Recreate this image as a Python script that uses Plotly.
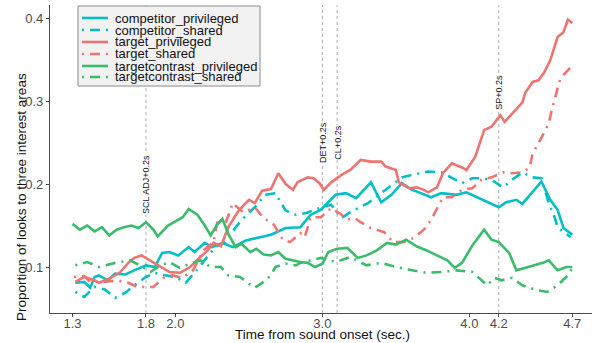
import plotly.graph_objects as go

# ---------------- data ----------------
cp_t = [1.32, 1.38, 1.42, 1.45, 1.48, 1.54, 1.59, 1.66, 1.72, 1.80, 1.86, 1.91, 1.96, 2.02, 2.09, 2.13,
        2.20, 2.25, 2.32, 2.39, 2.48, 2.57, 2.65, 2.75, 2.82, 2.85, 2.92, 2.99, 3.09, 3.16, 3.23, 3.30,
        3.33, 3.40, 3.47, 3.54, 3.61, 3.67, 3.74, 3.81, 3.91, 3.98, 4.05, 4.12, 4.20, 4.25, 4.32, 4.36,
        4.43, 4.49, 4.55, 4.60, 4.64, 4.70]
cp_v = [0.081, 0.082, 0.075, 0.088, 0.090, 0.084, 0.092, 0.091, 0.096, 0.102, 0.100, 0.117, 0.118, 0.114,
        0.124, 0.118, 0.129, 0.124, 0.129, 0.124, 0.132, 0.136, 0.139, 0.147, 0.148, 0.148, 0.163, 0.169,
        0.187, 0.189, 0.183, 0.196, 0.202, 0.178, 0.187, 0.201, 0.193, 0.189, 0.184, 0.189, 0.187, 0.190,
        0.184, 0.178, 0.172, 0.178, 0.181, 0.176, 0.190, 0.203, 0.181, 0.169, 0.147, 0.139]

cs_t = [1.32, 1.38, 1.45, 1.52, 1.59, 1.66, 1.72, 1.80, 1.86, 1.93, 2.00, 2.07, 2.13, 2.20, 2.27, 2.34,
        2.41, 2.48, 2.54, 2.61, 2.68, 2.75, 2.82, 2.89, 2.96, 3.06, 3.13, 3.19, 3.31, 3.40, 3.47, 3.54,
        3.61, 3.72, 3.81, 3.88, 3.95, 4.02, 4.08, 4.15, 4.23, 4.29, 4.36, 4.43, 4.49, 4.54, 4.58, 4.60,
        4.64, 4.69]
cs_v = [0.070, 0.064, 0.076, 0.073, 0.063, 0.069, 0.078, 0.088, 0.093, 0.090, 0.088, 0.081, 0.093, 0.108,
        0.124, 0.130, 0.148, 0.162, 0.172, 0.187, 0.189, 0.168, 0.163, 0.165, 0.170, 0.175, 0.159, 0.166,
        0.177, 0.189, 0.199, 0.208, 0.211, 0.215, 0.214, 0.208, 0.201, 0.207, 0.207, 0.205, 0.196, 0.205,
        0.214, 0.208, 0.207, 0.177, 0.160, 0.148, 0.142, 0.136]

tp_t = [1.32, 1.38, 1.45, 1.48, 1.55, 1.62, 1.68, 1.72, 1.77, 1.83, 1.90, 1.96, 2.03, 2.10, 2.17, 2.22,
        2.26, 2.31, 2.36, 2.43, 2.50, 2.54, 2.59, 2.65, 2.70, 2.75, 2.80, 2.83, 2.90, 2.94, 2.98, 3.01,
        3.06, 3.13, 3.19, 3.26, 3.33, 3.40, 3.43, 3.50, 3.52, 3.59, 3.64, 3.69, 3.72, 3.78, 3.82, 3.88,
        3.95, 3.98, 4.04, 4.10, 4.15, 4.21, 4.24, 4.30, 4.36, 4.38, 4.43, 4.47, 4.51, 4.55, 4.60, 4.64,
        4.67, 4.70]
tp_v = [0.082, 0.088, 0.084, 0.081, 0.086, 0.093, 0.105, 0.111, 0.114, 0.108, 0.100, 0.094, 0.093, 0.100,
        0.112, 0.120, 0.129, 0.125, 0.148, 0.168, 0.181, 0.177, 0.192, 0.194, 0.213, 0.200, 0.193, 0.202,
        0.208, 0.207, 0.201, 0.193, 0.202, 0.211, 0.217, 0.229, 0.227, 0.227, 0.221, 0.217, 0.202, 0.195,
        0.196, 0.193, 0.190, 0.196, 0.213, 0.225, 0.220, 0.217, 0.233, 0.265, 0.269, 0.283, 0.275, 0.286,
        0.298, 0.310, 0.323, 0.325, 0.335, 0.349, 0.377, 0.383, 0.398, 0.394]

ts_t = [1.31, 1.38, 1.42, 1.52, 1.60, 1.68, 1.74, 1.79, 1.85, 1.92, 1.98, 2.05, 2.12, 2.19, 2.26, 2.29,
        2.34, 2.39, 2.46, 2.54, 2.60, 2.67, 2.73, 2.78, 2.85, 2.88, 2.92, 2.99, 3.06, 3.13, 3.17, 3.22,
        3.26, 3.33, 3.42, 3.48, 3.55, 3.62, 3.69, 3.74, 3.79, 3.82, 3.88, 3.95, 4.02, 4.08, 4.15, 4.23,
        4.29, 4.36, 4.41, 4.43, 4.47, 4.51, 4.54, 4.56, 4.60, 4.62, 4.67, 4.70]
ts_v = [0.088, 0.089, 0.082, 0.082, 0.084, 0.081, 0.076, 0.076, 0.076, 0.087, 0.090, 0.087, 0.096, 0.120,
        0.130, 0.159, 0.152, 0.177, 0.166, 0.172, 0.159, 0.151, 0.133, 0.130, 0.141, 0.136, 0.160, 0.160,
        0.171, 0.163, 0.157, 0.159, 0.154, 0.147, 0.142, 0.130, 0.130, 0.135, 0.145, 0.157, 0.175, 0.184,
        0.184, 0.193, 0.195, 0.205, 0.208, 0.214, 0.213, 0.214, 0.220, 0.237, 0.249, 0.263, 0.273, 0.289,
        0.313, 0.328, 0.337, 0.343]

gp_t = [1.30, 1.35, 1.40, 1.45, 1.50, 1.55, 1.60, 1.65, 1.70, 1.75, 1.80, 1.85, 1.88, 1.95, 2.00, 2.05,
        2.09, 2.15, 2.20, 2.24, 2.28, 2.32, 2.36, 2.41, 2.45, 2.51, 2.55, 2.60, 2.65, 2.70, 2.75, 2.80,
        2.85, 2.90, 2.95, 3.00, 3.04, 3.10, 3.17, 3.24, 3.30, 3.37, 3.44, 3.50, 3.57, 3.64, 3.71, 3.78,
        3.85, 3.90, 3.95, 4.02, 4.10, 4.15, 4.20, 4.27, 4.32, 4.40, 4.50, 4.54, 4.60, 4.66, 4.70]
gp_v = [0.152, 0.145, 0.150, 0.143, 0.148, 0.138, 0.145, 0.148, 0.150, 0.147, 0.154, 0.145, 0.137, 0.150,
        0.155, 0.160, 0.170, 0.163, 0.150, 0.138, 0.150, 0.158, 0.140, 0.124, 0.128, 0.118, 0.122, 0.115,
        0.114, 0.118, 0.110, 0.108, 0.106, 0.105, 0.100, 0.104, 0.118, 0.122, 0.123, 0.111, 0.114, 0.120,
        0.129, 0.127, 0.133, 0.125, 0.120, 0.114, 0.108, 0.099, 0.105, 0.126, 0.145, 0.133, 0.130, 0.117,
        0.096, 0.100, 0.105, 0.108, 0.096, 0.100, 0.100]

gs_t = [1.32, 1.40, 1.48, 1.59, 1.69, 1.76, 1.83, 1.90, 1.96, 2.03, 2.10, 2.17, 2.24, 2.31, 2.36, 2.44,
        2.50, 2.54, 2.60, 2.65, 2.68, 2.75, 2.82, 2.85, 2.99, 3.09, 3.19, 3.30, 3.40, 3.50, 3.61, 3.71,
        3.81, 3.91, 4.02, 4.12, 4.17, 4.22, 4.29, 4.36, 4.46, 4.53, 4.60, 4.67, 4.70]
gs_v = [0.102, 0.106, 0.100, 0.105, 0.108, 0.102, 0.094, 0.102, 0.106, 0.099, 0.104, 0.108, 0.100, 0.100,
        0.090, 0.088, 0.080, 0.075, 0.082, 0.090, 0.100, 0.104, 0.102, 0.105, 0.111, 0.106, 0.112, 0.102,
        0.105, 0.100, 0.096, 0.093, 0.094, 0.096, 0.094, 0.078, 0.087, 0.084, 0.087, 0.078, 0.072, 0.070,
        0.078, 0.090, 0.099]

series_names = ["competitor_privileged", "competitor_shared", "target_privileged",
                "target_shared", "targetcontrast_privileged", "targetcontrast_shared"]

event_x = [1.8, 3.0, 3.1, 4.2]
event_y = [0.2, 0.25, 0.25, 0.311]
event_labels = ["SCL ADJ+0.2s", "DET+0.2s", "CL+0.2s", "SP+0.2s"]

x_ticks = [1.3, 1.8, 2.0, 3.0, 4.0, 4.2, 4.7]
x_tick_labels = ["1.3", "1.8", "2.0", "3.0", "4.0", "4.2", "4.7"]
y_ticks = [0.1, 0.2, 0.3, 0.4]
y_tick_labels = ["0.1", "0.2", "0.3", "0.4"]

x_title = "Time from sound onset (sec.)"
y_title = "Proportion of looks to three interest areas"

# ---------------- styles ----------------
CYAN = "#00BFC4"
RED = "#EE7472"
GREEN = "#3CBB6C"
DASH = "2px,6px,10px,6px"
FONT = "Liberation Sans, Arial, sans-serif"

series = [
    (cp_t, cp_v, CYAN, "solid"),
    (cs_t, cs_v, CYAN, DASH),
    (tp_t, tp_v, RED, "solid"),
    (ts_t, ts_v, RED, DASH),
    (gp_t, gp_v, GREEN, "solid"),
    (gs_t, gs_v, GREEN, DASH),
]

W, H = 592, 343
L, R, T, B = 50, 0, 5, 30
pw, ph = W - L - R, H - T - B


def px(xp):
    return (xp - L) / pw


def py(yp):
    return (H - B - yp) / ph


fig = go.Figure()

shapes = []
for ex in event_x:
    shapes.append(dict(type="line", xref="x", yref="paper", x0=ex, x1=ex, y0=0, y1=1,
                       line=dict(color="#8a8a8a", width=0.7, dash="dot"), layer="below"))

for (tt, vv, col, dash), name in zip(series, series_names):
    fig.add_trace(go.Scatter(x=tt, y=vv, mode="lines", name=name, showlegend=False,
                             line=dict(color=col, width=2.6, dash=dash)))

annotations = []
for ex, ey, lab in zip(event_x, event_y, event_labels):
    annotations.append(dict(x=ex, y=ey, xref="x", yref="y", text=lab, showarrow=False,
                            textangle=-90, xanchor="center", yanchor="middle",
                            font=dict(family=FONT, size=9, color="#111"),
                            bgcolor="white", borderpad=0))

# manual legend
shapes.append(dict(type="rect", xref="paper", yref="paper", x0=px(78), x1=px(260), y0=py(86), y1=py(6),
                   line=dict(color="#8c8c8c", width=1), fillcolor="#f2f2f2", layer="above"))
row_y = [18, 30, 42, 54, 66, 77]
for (tt, vv, col, dash), name, ry in zip(series, series_names, row_y):
    shapes.append(dict(type="line", xref="paper", yref="paper", x0=px(82), x1=px(108),
                       y0=py(ry), y1=py(ry), line=dict(color=col, width=2.6, dash=dash), layer="above"))
    annotations.append(dict(x=px(113), y=py(ry), xref="paper", yref="paper", text=name,
                            showarrow=False, xanchor="left", yanchor="middle",
                            font=dict(family=FONT, size=13, color="#111")))

# axis titles
annotations.append(dict(x=px(322), y=py(334), xref="paper", yref="paper", text=x_title,
                        showarrow=False, xanchor="center", yanchor="middle",
                        font=dict(family=FONT, size=13.5, color="#111")))
annotations.append(dict(x=px(21), y=py(197), xref="paper", yref="paper", text=y_title,
                        showarrow=False, xanchor="center", yanchor="middle", textangle=-90,
                        font=dict(family=FONT, size=13.5, color="#111")))

fig.update_layout(
    width=W, height=H,
    margin=dict(l=L, r=R, t=T, b=B, autoexpand=False),
    paper_bgcolor="white", plot_bgcolor="white",
    font=dict(family=FONT, size=13, color="#4d4d4d"),
    shapes=shapes, annotations=annotations,
    xaxis=dict(range=[1.147, 4.834], tickvals=x_ticks, ticktext=x_tick_labels, automargin=False,
               showgrid=False, zeroline=False, showline=True, linecolor="#4a4a4a", linewidth=1.2,
               ticks="outside", ticklen=3, tickcolor="#4a4a4a", ticklabelstandoff=-5,
               tickfont=dict(size=13, color="#4d4d4d")),
    yaxis=dict(range=[0.0446, 0.4157], tickvals=y_ticks, ticktext=y_tick_labels, automargin=False,
               showgrid=False, zeroline=False, showline=True, linecolor="#4a4a4a", linewidth=1.2,
               ticks="outside", ticklen=3, tickcolor="#4a4a4a", tickfont=dict(size=13, color="#4d4d4d")),
)

fig.write_html("out.html", config={"displayModeBar": False},
               post_script="document.body.style.margin='0px';document.body.style.padding='0px';")
